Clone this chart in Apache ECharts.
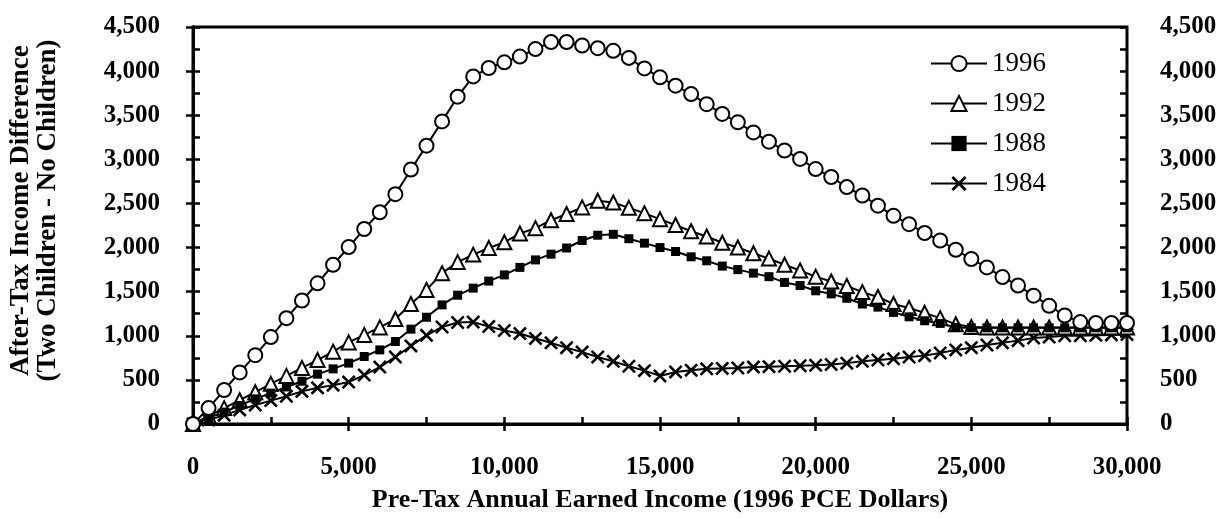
<!DOCTYPE html>
<html>
<head>
<meta charset="utf-8">
<script src="https://cdn.jsdelivr.net/npm/echarts/dist/echarts.min.js"></script>
<style>
html,body{margin:0;padding:0;background:#fff;}
#chart{width:1220px;height:518px;}
</style>
</head>
<body>
<div id="chart"></div>
<script>
const income = [0,500,1000,1500,2000,2500,3000,3500,4000,4500,
  5000,5500,6000,6500,7000,7500,8000,8500,9000,9500,
  10000,10500,11000,11500,12000,12500,13000,13500,14000,14500,
  15000,15500,16000,16500,17000,17500,18000,18500,19000,19500,
  20000,20500,21000,21500,22000,22500,23000,23500,24000,24500,
  25000,25500,26000,26500,27000,27500,28000,28500,29000,29500,
  30000];
const y1996 = [0,180,385,585,780,985,1200,1400,1595,1805,
  2005,2210,2400,2605,2885,3155,3430,3710,3940,4035,
  4100,4165,4250,4330,4330,4290,4260,4230,4150,4030,
  3930,3835,3740,3625,3515,3420,3305,3200,3100,3005,
  2890,2800,2685,2590,2475,2360,2265,2165,2080,1975,
  1870,1775,1665,1570,1455,1340,1230,1155,1145,1145,
  1145];
const y1992 = [0,90,180,270,360,455,545,635,725,820,
  925,1010,1095,1190,1360,1520,1710,1835,1920,1995,
  2060,2160,2220,2310,2380,2455,2530,2510,2450,2390,
  2320,2255,2185,2125,2055,2000,1935,1875,1805,1740,
  1670,1615,1565,1495,1440,1360,1315,1260,1200,1130,
  1100,1095,1095,1095,1095,1095,1095,1095,1095,1095,
  1095];
const y1988 = [0,70,135,210,285,350,420,485,565,625,
  690,765,840,935,1075,1210,1350,1460,1540,1620,
  1690,1775,1860,1925,1995,2080,2140,2150,2100,2050,
  2000,1955,1895,1850,1790,1750,1710,1670,1605,1570,
  1510,1475,1425,1360,1325,1265,1215,1170,1140,1095,
  1090,1090,1090,1090,1090,1090,1090,1090,1090,1090,
  1090];
const y1984 = [0,45,100,160,215,265,315,370,410,440,
  475,555,645,760,885,1005,1100,1150,1155,1105,
  1060,1025,970,920,865,815,760,710,655,605,
  545,590,610,625,630,635,645,650,655,660,
  665,675,690,710,725,740,760,775,805,840,
  865,895,920,945,975,985,1000,1000,1005,1010,
  1015];
const seriesNames = ['1996','1992','1988','1984'];
const xTitle = 'Pre-Tax Annual Earned Income (1996 PCE Dollars)';
const yTitle = 'After-Tax Income Difference\n(Two Children - No Children)';

const FONT = "'Liberation Serif', 'Times New Roman', serif";
const fmt = v => String(v).replace(/\B(?=(\d{3})+(?!\d))/g, ',');
const pairs = ys => income.map((x, i) => [x, ys[i]]);
const tickLine = {color:'#000', width:2.5};

const labelStyle = {fontFamily:FONT, fontSize:25, fontWeight:'bold', color:'#000', formatter:fmt};

function xAx(outer){
  const a = {type:'value', min:0, max:30000, interval:5000, position:'bottom', gridIndex:0,
    splitLine:{show:false}};
  if (outer){
    Object.assign(a, {
      axisLine:{show:true, lineStyle:{color:'#000', width:3}},
      axisTick:{show:true, inside:false, length:7, lineStyle:tickLine},
      axisLabel:Object.assign({margin:31}, labelStyle),
      name:xTitle, nameLocation:'middle', nameGap:63,
      nameTextStyle:{fontFamily:FONT, fontSize:26, fontWeight:'bold', color:'#000'}
    });
  } else {
    Object.assign(a, {
      axisLine:{show:false},
      axisTick:{show:true, inside:true, length:7, lineStyle:tickLine},
      minorTick:{show:true, splitNumber:2, length:7, lineStyle:tickLine},
      axisLabel:{show:false}
    });
  }
  return a;
}
function yAx(pos, outer){
  const a = {type:'value', min:0, max:4500, interval:500, position:pos, gridIndex:0,
    splitLine:{show:false}};
  if (outer){
    Object.assign(a, {
      axisLine:{show:true, lineStyle:{color:'#000', width:3}},
      axisTick:{show:true, inside:false, length:7, lineStyle:tickLine},
      axisLabel:Object.assign({margin:33}, labelStyle)
    });
    if (pos === 'left'){
      Object.assign(a, {
        name:yTitle, nameLocation:'middle', nameGap:131, nameRotate:90,
        nameTextStyle:{fontFamily:FONT, fontSize:27, fontWeight:'bold', color:'#000', lineHeight:27, padding:[0,0,0,30]}
      });
    }
  } else {
    Object.assign(a, {
      axisLine:{show:false},
      axisTick:{show:true, inside:true, length:7, lineStyle:tickLine},
      minorTick:{show:true, splitNumber:2, length:7, lineStyle:tickLine},
      axisLabel:{show:false}
    });
  }
  return a;
}

const lineBase = {type:'line', xAxisIndex:0, yAxisIndex:0, smooth:false,
  lineStyle:{color:'#000', width:2}, emphasis:{disabled:true}};
const xPath = 'path://M0,1.3L1.3,0L5,3.7L8.7,0L10,1.3L6.3,5L10,8.7L8.7,10L5,6.3L1.3,10L0,8.7L3.7,5Z';

const option = {
  animation:false,
  backgroundColor:'#fff',
  grid:{left:190, right:93, top:27, bottom:93, show:true, borderColor:'#000', borderWidth:3},
  legend:{
    data:seriesNames, orient:'vertical', left:925, top:45,
    itemWidth:56, itemHeight:19, itemGap:13,
    textStyle:{fontFamily:FONT, fontSize:27, color:'#000'},
    selectedMode:false
  },
  xAxis:[xAx(true), xAx(false)],
  yAxis:[yAx('left', true), yAx('right', true), yAx('left', false), yAx('right', false)],
  series:[
    Object.assign({}, lineBase, {name:'1984', data:pairs(y1984), symbol:xPath, symbolSize:14,
      itemStyle:{color:'#000', borderWidth:0}}),
    Object.assign({}, lineBase, {name:'1992', data:pairs(y1992), symbol:'triangle', symbolSize:14,
      itemStyle:{color:'#fff', borderColor:'#000', borderWidth:2}}),
    Object.assign({}, lineBase, {name:'1988', data:pairs(y1988), symbol:'rect', symbolSize:9,
      itemStyle:{color:'#000', borderColor:'#000', borderWidth:0}}),
    Object.assign({}, lineBase, {name:'1996', data:pairs(y1996), symbol:'circle', symbolSize:14,
      itemStyle:{color:'#fff', borderColor:'#000', borderWidth:2}})
  ]
};
const chart = echarts.init(document.getElementById('chart'), null, {renderer:'canvas'});
chart.setOption(option);
</script>
</body>
</html>
